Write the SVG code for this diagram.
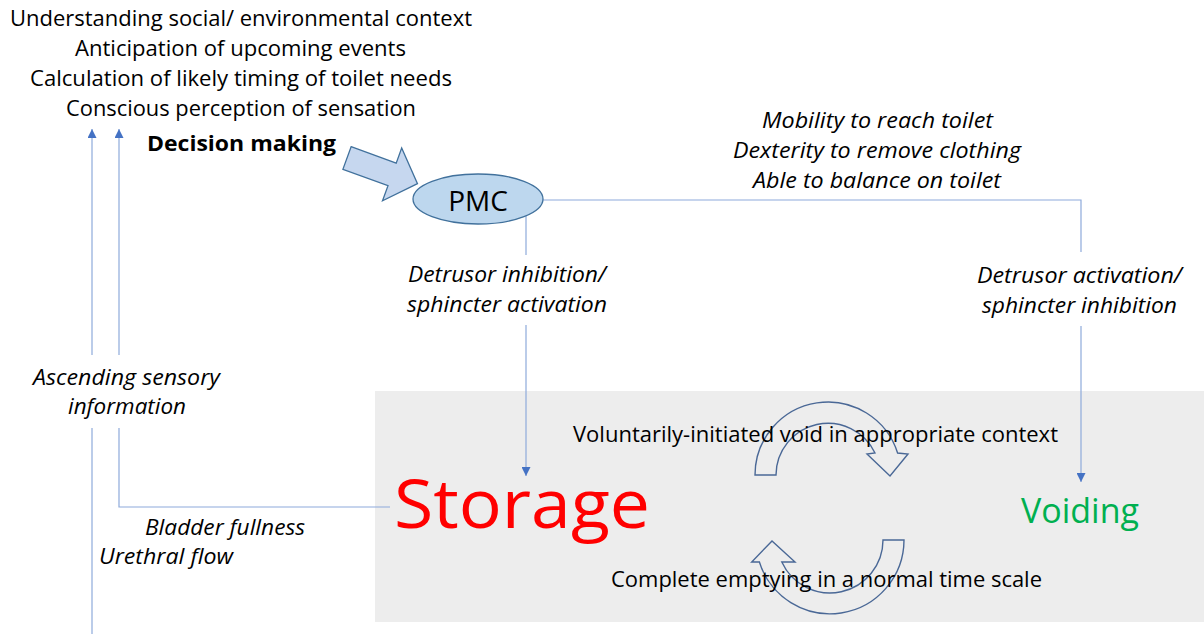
<svg xmlns="http://www.w3.org/2000/svg" width="1204" height="634" viewBox="0 0 1204 634">
<style>
text{font-family:"Open Sans","Noto Sans",sans-serif;fill:#000}
.t{font-size:21.5px}
.i{font-size:21.5px;font-style:italic}
.m{text-anchor:middle}
.ln{stroke:#8eaadb;stroke-width:1.2;fill:none}
.circ{fill:none;stroke:#4a6896;stroke-width:1.4}
</style>
<defs>
<marker id="ah" viewBox="0 0 10 10" refX="10" refY="5" markerWidth="9" markerHeight="9" markerUnits="userSpaceOnUse" orient="auto">
<path d="M0,0 L10,5 L0,10 Z" fill="#4472c4"/>
</marker>
</defs>
<rect id="panel" x="375" y="391" width="829" height="231" fill="#ededed"/>
<g id="connectors">
<line class="ln" x1="92" y1="355" x2="92" y2="129" marker-end="url(#ah)"/>
<line class="ln" x1="119" y1="355" x2="119" y2="129" marker-end="url(#ah)"/>
<line class="ln" x1="92" y1="428" x2="92" y2="634"/>
<polyline class="ln" points="119,428 119,507 390,507"/>
<polyline class="ln" points="543,200 1081,200 1081,252"/>
<line class="ln" x1="1081" y1="326" x2="1081" y2="482" marker-end="url(#ah)"/>
<line class="ln" x1="526" y1="216" x2="526" y2="255"/>
<line class="ln" x1="526" y1="325" x2="526" y2="476" marker-end="url(#ah)"/>
</g>
<g id="context-text">
<text class="t" x="10" y="26" textLength="462" lengthAdjust="spacingAndGlyphs">Understanding social/ environmental context</text>
<text class="t" x="75" y="56" textLength="331" lengthAdjust="spacingAndGlyphs">Anticipation of upcoming events</text>
<text class="t" x="30" y="86" textLength="422" lengthAdjust="spacingAndGlyphs">Calculation of likely timing of toilet needs</text>
<text class="t" x="66" y="116" textLength="350" lengthAdjust="spacingAndGlyphs">Conscious perception of sensation</text>
</g>
<g id="decision">
<text x="147" y="151" font-size="21.5" font-weight="bold" textLength="189" lengthAdjust="spacingAndGlyphs">Decision making</text>
<path transform="translate(347,158) rotate(20)" d="M0,-12 L48,-12 L48,-28 L75,0 L48,28 L48,12 L0,12 Z" fill="#c6d7ef" stroke="#41719c" stroke-width="1.3"/>
</g>
<g id="pmc">
<ellipse cx="478" cy="199" rx="65" ry="25" fill="#bdd7ee" stroke="#41719c" stroke-width="1.3"/>
<text class="m" x="478" y="211" font-size="28">PMC</text>
</g>
<g id="abilities">
<text class="i" x="762" y="128" textLength="231" lengthAdjust="spacingAndGlyphs">Mobility to reach toilet</text>
<text class="i" x="733" y="158" textLength="288" lengthAdjust="spacingAndGlyphs">Dexterity to remove clothing</text>
<text class="i" x="753" y="188" textLength="248" lengthAdjust="spacingAndGlyphs">Able to balance on toilet</text>
</g>
<g id="inhibition">
<text class="i" x="408" y="282" textLength="198" lengthAdjust="spacingAndGlyphs">Detrusor inhibition/</text>
<text class="i" x="407" y="312" textLength="200" lengthAdjust="spacingAndGlyphs">sphincter activation</text>
</g>
<g id="activation">
<text class="i" x="977" y="283" textLength="205" lengthAdjust="spacingAndGlyphs">Detrusor activation/</text>
<text class="i" x="982" y="313" textLength="195" lengthAdjust="spacingAndGlyphs">sphincter inhibition</text>
</g>
<g id="ascending">
<text class="i" x="33" y="385" textLength="187" lengthAdjust="spacingAndGlyphs">Ascending sensory</text>
<text class="i" x="68" y="414" textLength="118" lengthAdjust="spacingAndGlyphs">information</text>
</g>
<g id="sensations">
<text class="i" x="145" y="535" textLength="160" lengthAdjust="spacingAndGlyphs">Bladder fullness</text>
<text class="i" x="99" y="564" textLength="134" lengthAdjust="spacingAndGlyphs">Urethral flow</text>
</g>
<g id="storage">
<text x="394" y="528" font-size="68" style="fill:#ff0000" textLength="256" lengthAdjust="spacingAndGlyphs">Storage</text>
</g>
<g id="voiding">
<text x="1021" y="523" font-size="35" style="fill:#00b050" textLength="118" lengthAdjust="spacingAndGlyphs">Voiding</text>
</g>
<g id="cycle">
<path class="circ" d="M755,475 A73,73 0 0 1 897.6,453 L908,454 L890,476 L867,454 L875,453 A52,52 0 0 0 776,475 Z"/>
<path class="circ" d="M904,540 A74,74 0 0 1 759.4,562 L751.7,562 L772,541 L795,562 L781.8,562 A53,53 0 0 0 883,540 Z"/>
<text class="t" x="573" y="442" textLength="485" lengthAdjust="spacingAndGlyphs">Voluntarily-initiated void in appropriate context</text>
<text class="t" x="611" y="587" textLength="431" lengthAdjust="spacingAndGlyphs">Complete emptying in a normal time scale</text>
</g>
</svg>
